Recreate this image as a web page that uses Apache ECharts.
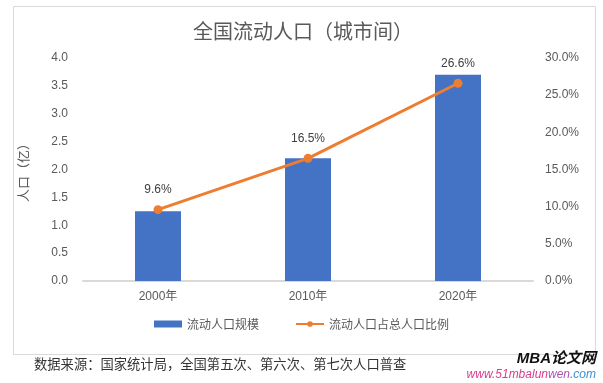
<!DOCTYPE html>
<html><head><meta charset="utf-8">
<script src="https://cdn.jsdelivr.net/npm/echarts@6/dist/echarts.min.js"></script>
<style>html,body{margin:0;padding:0;background:#fff}#c{width:603px;height:383px}</style>
</head><body><div id="c"></div>
<script>
const categories = ['2000年', '2010年', '2020年'];
const populationValues = [1.25, 2.2, 3.7];
const shareValues = [9.6, 16.5, 26.6];
const leftTicks = {min: 0, max: 4, interval: 0.5};
const rightTicks = {min: 0, max: 30, interval: 5};
const seriesNames = ['流动人口规模', '流动人口占总人口比例'];
const titleText = '全国流动人口（城市间）';
const yAxisTitle = '人口（亿）';
const sourceText = '数据来源：国家统计局，全国第五次、第六次、第七次人口普查';

const FONT = "'Liberation Sans','Noto Sans CJK SC',sans-serif";
const chart = echarts.init(document.getElementById('c'), null, {renderer: 'canvas'});
chart.setOption({
  backgroundColor: '#fff',
  animation: false,
  textStyle: {fontFamily: FONT},
  title: {
    text: titleText, left: 188, top: 16,
    textStyle: {fontSize: 20, fontWeight: 'normal', color: '#595959', fontFamily: "'Noto Sans CJK SC',sans-serif"}
  },
  grid: {left: 83, right: 70, top: 58, bottom: 102},
  legend: {
    bottom: 48, left: 'center', itemGap: 36, itemWidth: 28, itemHeight: 7,
    textStyle: {fontSize: 12, color: '#595959', fontFamily: "'Noto Sans CJK SC',sans-serif"},
    data: [
      {name: seriesNames[0], icon: 'rect'},
      {name: seriesNames[1]}
    ]
  },
  xAxis: {
    type: 'category', data: categories,
    axisLine: {lineStyle: {color: '#d9d9d9', width: 2}},
    axisTick: {show: false},
    axisLabel: {color: '#595959', fontSize: 12, margin: 10, fontFamily: "'Liberation Sans','Noto Sans CJK SC',sans-serif"}
  },
  yAxis: [
    {
      type: 'value', min: leftTicks.min, max: leftTicks.max, interval: leftTicks.interval,
      name: yAxisTitle, nameLocation: 'middle', nameGap: 53, nameRotate: 90,
      nameTextStyle: {color: '#595959', fontSize: 13, fontFamily: "'Noto Sans CJK SC',sans-serif"},
      splitLine: {show: false}, axisLine: {show: false}, axisTick: {show: false},
      axisLabel: {color: '#595959', fontSize: 12, margin: 15, formatter: v => v.toFixed(1)}
    },
    {
      type: 'value', min: rightTicks.min, max: rightTicks.max, interval: rightTicks.interval,
      splitLine: {show: false}, axisLine: {show: false}, axisTick: {show: false},
      axisLabel: {color: '#595959', fontSize: 12, margin: 12, formatter: v => v.toFixed(1) + '%'}
    }
  ],
  series: [
    {
      name: seriesNames[0], type: 'bar', data: populationValues, barWidth: 46,
      itemStyle: {color: '#4472C4'}, yAxisIndex: 0
    },
    {
      name: seriesNames[1], type: 'line', data: shareValues, yAxisIndex: 1,
      symbol: 'circle', symbolSize: 9,
      lineStyle: {color: '#ED7D31', width: 3}, itemStyle: {color: '#ED7D31'},
      label: {show: true, position: 'top', distance: 9, color: '#404040', fontSize: 12, formatter: p => p.value.toFixed(1) + '%'}
    }
  ],
  graphic: [
    {type: 'rect', left: 11, top: 4, shape: {width: 582, height: 348}, style: {fill: 'none', stroke: '#d9d9d9', lineWidth: 1}, silent: true, z: -1},
    {type: 'text', left: 34, top: 357, style: {text: sourceText, fill: '#333', font: "13.3px 'Noto Sans CJK SC',sans-serif"}},
    {type: 'text', right: 7, top: 351, style: {text: 'MBA论文网', fill: '#111', font: "italic bold 15px 'Liberation Sans','Noto Sans CJK SC',sans-serif"}},
    {type: 'text', right: 7, top: 369, style: {
      text: '{a|www.51mbalun}{b|wen.}{c|com}',
      font: "italic 12px 'Liberation Sans',sans-serif",
      rich: {
        a: {fill: '#d93a8e', font: "italic 12px 'Liberation Sans',sans-serif"},
        b: {fill: '#a855b5', font: "italic 12px 'Liberation Sans',sans-serif"},
        c: {fill: '#3b8fd2', font: "italic 12px 'Liberation Sans',sans-serif"}
      }
    }}
  ]
});
</script>
</body></html>
